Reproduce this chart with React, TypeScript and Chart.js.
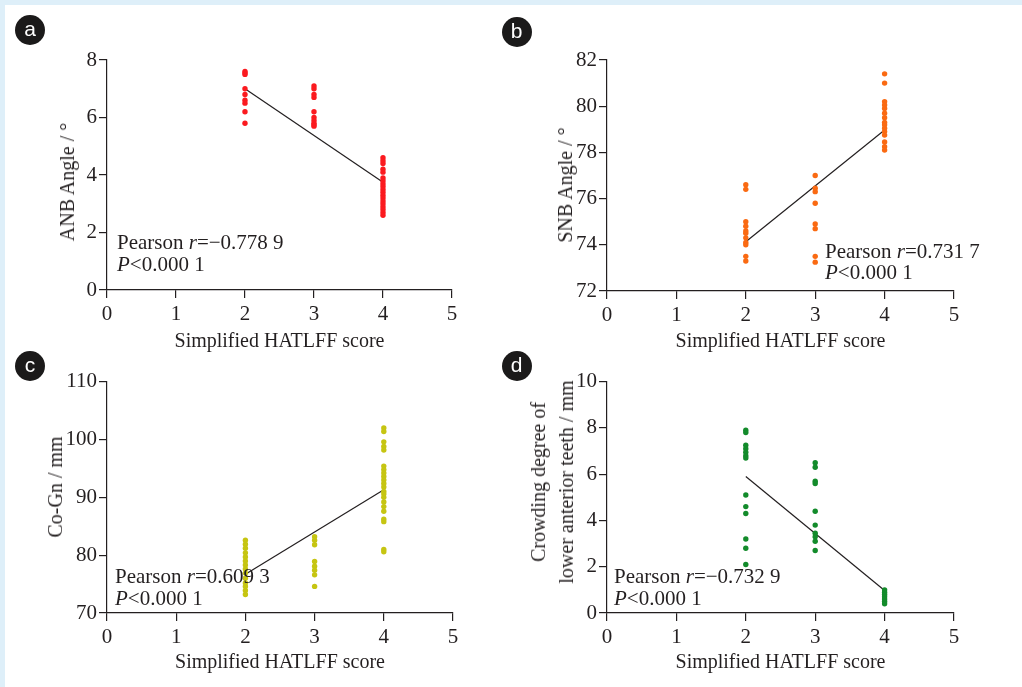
import React, { useEffect, useRef } from "react";
import { Chart, registerables } from "chart.js";

Chart.register(...registerables);

// ---------- data ----------
const scoreTicks = [0, 1, 2, 3, 4, 5];
const fitScores = [2, 4];

const anbScore2 = [7.6, 7.55, 7.5, 7.0, 6.8, 6.6, 6.5, 6.2, 5.8];
const anbScore3 = [7.1, 7.0, 6.8, 6.7, 6.2, 6.0, 5.9, 5.8, 5.75, 5.7];
const anbScore4 = [4.6, 4.5, 4.4, 4.2, 4.1, 3.9, 3.8, 3.7, 3.6, 3.5, 3.4, 3.3, 3.2, 3.1, 3.0, 2.9, 2.8, 2.7, 2.6];
const anbFit = [7.0, 3.75];
const anbTicks = [0, 2, 4, 6, 8];

const snbScore2 = [76.6, 76.4, 75.0, 74.8, 74.6, 74.5, 74.3, 74.1, 74.0, 73.5, 73.3];
const snbScore3 = [77.0, 76.45, 76.3, 75.8, 74.9, 74.7, 73.5, 73.25];
const snbScore4 = [81.4, 81.0, 80.2, 80.05, 79.9, 79.7, 79.5, 79.3, 79.2, 79.05, 78.9, 78.75, 78.45, 78.25, 78.1];
const snbFit = [74.13, 78.97];
const snbTicks = [72, 74, 76, 78, 80, 82];

const cognScore2 = [82.6, 81.9, 81.2, 80.4, 79.7, 79.0, 78.3, 77.6, 76.9, 76.0, 75.2, 74.6, 73.9, 73.2];
const cognScore3 = [83.2, 82.6, 81.8, 78.9, 78.1, 77.4, 76.6, 74.6];
const cognScore4 = [102.0, 101.4, 99.6, 98.8, 98.2, 95.4, 94.8, 94.2, 93.6, 93.0, 92.4, 91.8, 91.0, 90.6, 90.0, 89.2, 88.4, 87.6, 86.2, 85.8, 81.0, 80.6];
const cognFit = [76.7, 91.3];
const cognTicks = [70, 80, 90, 100, 110];

const crowdScore2 = [7.9, 7.8, 7.25, 7.1, 6.95, 6.8, 6.7, 5.1, 4.6, 4.3, 3.2, 2.8, 2.1];
const crowdScore3 = [6.5, 6.3, 5.7, 5.6, 4.4, 3.8, 3.45, 3.3, 3.1, 2.7];
const crowdScore4 = [1.0, 0.9, 0.8, 0.7, 0.6, 0.5, 0.4];
const crowdFit = [5.9, 0.97];
const crowdTicks = [0, 2, 4, 6, 8, 10];

const xTitle = "Simplified HATLFF score";

const INK = "#231f20";
const SERIF = '"Liberation Serif", "Times New Roman", serif';

type Spec = {
  box: { l: number; t: number; w: number; h: number };
  area: { l: number; r: number; t: number; b: number };
  xTitleY: number;
  color: string;
  s2: number[];
  s3: number[];
  s4: number[];
  fit: number[];
  yTicks: number[];
};

const specs: Spec[] = [
  { box: { l: 0, t: 0, w: 500, h: 360 }, area: { l: 107, r: 452, t: 60, b: 290 }, xTitleY: 342, color: "#fb1a1f", s2: anbScore2, s3: anbScore3, s4: anbScore4, fit: anbFit, yTicks: anbTicks },
  { box: { l: 500, t: 0, w: 522, h: 360 }, area: { l: 607, r: 954, t: 60, b: 291 }, xTitleY: 342, color: "#fa6a12", s2: snbScore2, s3: snbScore3, s4: snbScore4, fit: snbFit, yTicks: snbTicks },
  { box: { l: 0, t: 340, w: 500, h: 347 }, area: { l: 107, r: 453, t: 381.7, b: 613 }, xTitleY: 663, color: "#c6c512", s2: cognScore2, s3: cognScore3, s4: cognScore4, fit: cognFit, yTicks: cognTicks },
  { box: { l: 500, t: 340, w: 522, h: 347 }, area: { l: 607, r: 954, t: 381.7, b: 613 }, xTitleY: 663, color: "#138b2b", s2: crowdScore2, s3: crowdScore3, s4: crowdScore4, fit: crowdFit, yTicks: crowdTicks },
];

function Panel({ spec }: { spec: Spec }) {
  const ref = useRef<HTMLCanvasElement>(null);
  useEffect(() => {
    const s = spec;
    const ca = {
      l: s.area.l - s.box.l,
      r: s.area.r - s.box.l,
      t: s.area.t - s.box.t,
      b: s.area.b - s.box.t,
    };
    const yW = 50;
    const xScaleBottom = s.xTitleY - s.box.t + 12;
    const xH = xScaleBottom - ca.b;
    const pts = [
      ...s.s2.map((v) => ({ x: 2, y: v })),
      ...s.s3.map((v) => ({ x: 3, y: v })),
      ...s.s4.map((v) => ({ x: 4, y: v })),
    ];
    const fitPts = fitScores.map((x, i) => ({ x, y: s.fit[i] }));
    const gridOpts = { drawOnChartArea: false, drawTicks: true, tickLength: 8, color: INK, lineWidth: 1.2 };
    const borderOpts = { display: true, color: INK, width: 1.2 };
    const tickFont = { family: SERIF, size: 21, lineHeight: 1.2 };
    const chart = new Chart(ref.current!, {
      type: "scatter",
      data: {
        datasets: [
          { data: pts, backgroundColor: s.color, borderColor: s.color, pointRadius: 2.7, pointBorderWidth: 0 },
          { data: fitPts, showLine: true, borderColor: INK, borderWidth: 1.2, pointRadius: 0 } as any,
        ],
      },
      options: {
        animation: false,
        responsive: false,
        layout: { padding: { left: ca.l - yW, right: s.box.w - ca.r, top: ca.t, bottom: s.box.h - xScaleBottom } },
        plugins: { legend: { display: false }, tooltip: { enabled: false } },
        scales: {
          x: {
            type: "linear",
            min: scoreTicks[0],
            max: scoreTicks[scoreTicks.length - 1],
            afterFit: (sc: any) => { sc.height = xH; },
            afterBuildTicks: (ax: any) => { ax.ticks = scoreTicks.map((v) => ({ value: v })); },
            ticks: { color: INK, font: tickFont, padding: 4, maxRotation: 0 },
            grid: gridOpts,
            border: borderOpts,
            title: { display: true, text: xTitle, color: INK, font: { family: SERIF, size: 20, lineHeight: 1.2 }, padding: 0 },
          },
          y: {
            type: "linear",
            min: s.yTicks[0],
            max: s.yTicks[s.yTicks.length - 1],
            afterFit: (sc: any) => { sc.width = yW; },
            afterBuildTicks: (ax: any) => { ax.ticks = s.yTicks.map((v) => ({ value: v })); },
            ticks: { color: INK, font: tickFont, padding: 2 },
            grid: gridOpts,
            border: borderOpts,
          },
        },
      } as any,
    });
    return () => chart.destroy();
  }, [spec]);
  return (
    <canvas
      ref={ref}
      width={spec.box.w}
      height={spec.box.h}
      style={{ position: "absolute", left: spec.box.l, top: spec.box.t, width: spec.box.w, height: spec.box.h }}
    />
  );
}

const badges = [
  { letter: "a", x: 30, y: 30 },
  { letter: "b", x: 516.5, y: 31.5 },
  { letter: "c", x: 30, y: 366 },
  { letter: "d", x: 516.5, y: 366 },
];

const yTitles = [
  { lines: ["ANB Angle / °"], x: 67, y: 181.5 },
  { lines: ["SNB Angle / °"], x: 565, y: 185 },
  { lines: ["Co-Gn / mm"], x: 55, y: 487 },
  { lines: ["Crowding degree of", "lower anterior teeth / mm"], x: 552, y: 482 },
];

const stats = [
  { r: "=−0.778 9", x: 117, top: 232.2 },
  { r: "=0.731 7", x: 825, top: 240.5 },
  { r: "=0.609 3", x: 115, top: 566.2 },
  { r: "=−0.732 9", x: 614, top: 566.2 },
];

export default function App() {
  useEffect(() => {
    document.body.style.margin = "0";
  }, []);
  return (
    <div style={{ position: "fixed", left: 0, top: 0, width: 1022, height: 687, background: "#deeff9", overflow: "hidden" }}>
      <div style={{ position: "absolute", left: 5, top: 5, right: 0, bottom: 0, background: "#ffffff" }} />
      {specs.map((s, i) => (
        <Panel key={i} spec={s} />
      ))}
      {yTitles.map((t, i) => (
        <div
          key={"yt" + i}
          style={{
            position: "absolute",
            left: t.x,
            top: t.y,
            transform: "translate(-50%, -50%) rotate(-90deg)",
            fontFamily: SERIF,
            fontSize: 20,
            lineHeight: "28px",
            color: INK,
            whiteSpace: "nowrap",
            textAlign: "center",
          }}
        >
          {t.lines.map((l, j) => (
            <div key={j}>{l}</div>
          ))}
        </div>
      ))}
      {stats.map((s, i) => (
        <div
          key={"st" + i}
          style={{
            position: "absolute",
            left: s.x,
            top: s.top,
            fontFamily: SERIF,
            fontSize: 21,
            lineHeight: "21.5px",
            color: INK,
            whiteSpace: "nowrap",
          }}
        >
          <div>
            Pearson <i>r</i>
            {s.r}
          </div>
          <div>
            <i>P</i>&lt;0.000 1
          </div>
        </div>
      ))}
      {badges.map((b, i) => (
        <div
          key={"bd" + i}
          style={{
            position: "absolute",
            left: b.x - 15,
            top: b.y - 15,
            width: 30,
            height: 30,
            borderRadius: 15,
            background: "#1b1a1a",
            color: "#ffffff",
            fontFamily: '"Liberation Sans", Arial, sans-serif',
            fontSize: 21,
            lineHeight: "28px",
            textAlign: "center",
          }}
        >
          {b.letter}
        </div>
      ))}
    </div>
  );
}
